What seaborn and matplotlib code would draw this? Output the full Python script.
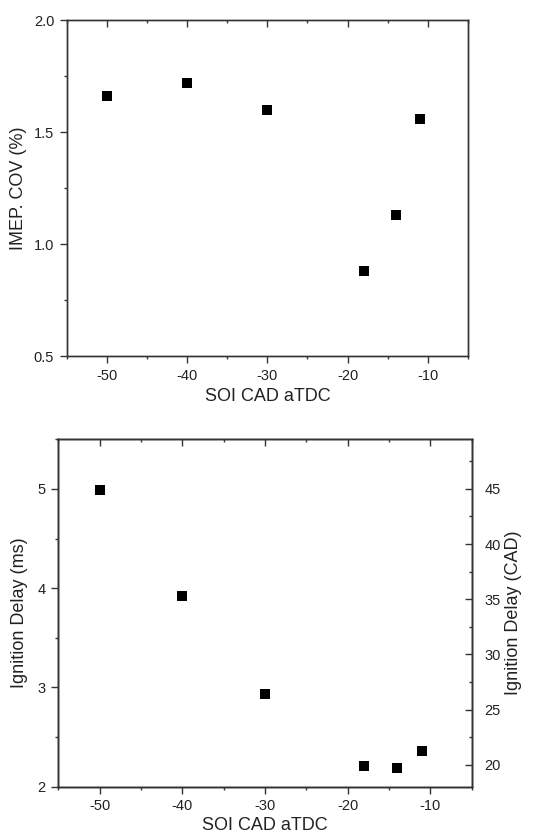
import matplotlib
matplotlib.use("Agg")
import matplotlib.pyplot as plt
from matplotlib.ticker import MultipleLocator
import seaborn as sns
import pandas as pd

# Start of injection, crank-angle degrees after top dead centre
soi_cad = [-50, -40, -30, -18, -14, -11]
# Cycle-to-cycle variation of IMEP (%)
imep_cov = [1.66, 1.72, 1.60, 0.88, 1.13, 1.56]
# Ignition delay (ms)
ign_delay_ms = [4.99, 3.92, 2.93, 2.21, 2.19, 2.36]
# Conversion from milliseconds to crank-angle degrees at the test speed
CAD_PER_MS = 9.0

sns.set_theme(style="ticks")
plt.rcParams["font.family"] = ["Liberation Sans", "DejaVu Sans"]
plt.rcParams["axes.unicode_minus"] = False

ink = "#222222"
spine_c = "#333333"

df_cov = pd.DataFrame({"soi": soi_cad, "cov": imep_cov})
df_del = pd.DataFrame({"soi": soi_cad, "delay": ign_delay_ms})

fig = plt.figure(figsize=(5.34, 8.34), dpi=100)
ax1 = fig.add_axes([0.1249, 0.5731, 0.7515, 0.4029])
ax2 = fig.add_axes([0.1092, 0.0567, 0.7741, 0.4166])

sns.scatterplot(data=df_cov, x="soi", y="cov", ax=ax1, marker="s", s=52,
                color="black", edgecolor="none", zorder=3)
sns.scatterplot(data=df_del, x="soi", y="delay", ax=ax2, marker="s", s=52,
                color="black", edgecolor="none", zorder=3)


def style_axes(ax, xlabelpad):
    for sp in ax.spines.values():
        sp.set_visible(True)
        sp.set_color(spine_c)
        sp.set_linewidth(1.0)
    ax.xaxis.set_major_locator(MultipleLocator(10))
    ax.xaxis.set_minor_locator(MultipleLocator(5))
    ax.tick_params(which="major", direction="out", length=5, width=1.0,
                   color=spine_c, labelsize=10.5, labelcolor=ink, pad=4)
    ax.tick_params(which="minor", direction="out", length=2.5, width=1.0,
                   color=spine_c)
    ax.tick_params(axis="x", top=False, bottom=True, which="both")
    ax.tick_params(axis="y", left=True, right=False, which="both")
    # mirrored inward ticks along the top edge
    top = ax.twiny()
    top.set_xlim(ax.get_xlim())
    top.xaxis.set_major_locator(MultipleLocator(10))
    top.xaxis.set_minor_locator(MultipleLocator(5))
    top.tick_params(axis="x", which="both", top=True, bottom=False,
                    labeltop=False, labelbottom=False, direction="in",
                    color=spine_c, width=1.0)
    top.tick_params(axis="x", which="major", length=5)
    top.tick_params(axis="x", which="minor", length=2.5)
    top.tick_params(axis="y", left=False, right=False,
                    labelleft=False, labelright=False)
    for sp in top.spines.values():
        sp.set_color(spine_c)
        sp.set_linewidth(1.0)
    ax.set_xlabel("SOI CAD aTDC", fontsize=13, color=ink, labelpad=xlabelpad)


# Upper panel: IMEP COV
ax1.set_xlim(-55, -5)
ax1.set_ylim(0.5, 2.0)
ax1.yaxis.set_major_locator(MultipleLocator(0.5))
ax1.yaxis.set_minor_locator(MultipleLocator(0.25))
style_axes(ax1, 4)
ax1.yaxis.set_major_formatter(plt.FormatStrFormatter("%.1f"))
ax1.set_ylabel("IMEP. COV (%)", fontsize=13, color=ink, labelpad=5)

# Lower panel: ignition delay in ms (left) and CAD (right)
ax2.set_xlim(-55, -5)
ax2.set_ylim(2.0, 5.5)
ax2.yaxis.set_major_locator(MultipleLocator(1))
ax2.yaxis.set_minor_locator(MultipleLocator(0.5))
style_axes(ax2, 2.5)
ax2.set_ylabel("Ignition Delay (ms)", fontsize=13, color=ink, labelpad=7)

ax2r = ax2.twinx()
lo, hi = ax2.get_ylim()
ax2r.set_ylim(lo * CAD_PER_MS, hi * CAD_PER_MS)
ax2r.yaxis.set_major_locator(MultipleLocator(5))
ax2r.yaxis.set_minor_locator(MultipleLocator(2.5))
ax2r.tick_params(axis="y", which="both", right=True, left=False,
                 direction="in", color=spine_c, width=1.0)
ax2r.tick_params(axis="y", which="major", length=5, labelsize=10.5,
                 labelcolor=ink, pad=9)
ax2r.tick_params(axis="y", which="minor", length=2.5)
for sp in ax2r.spines.values():
    sp.set_color(spine_c)
    sp.set_linewidth(1.0)
ax2r.set_ylabel("Ignition Delay (CAD)", fontsize=13, color=ink, labelpad=3)

fig.savefig("out.png", dpi=100)
